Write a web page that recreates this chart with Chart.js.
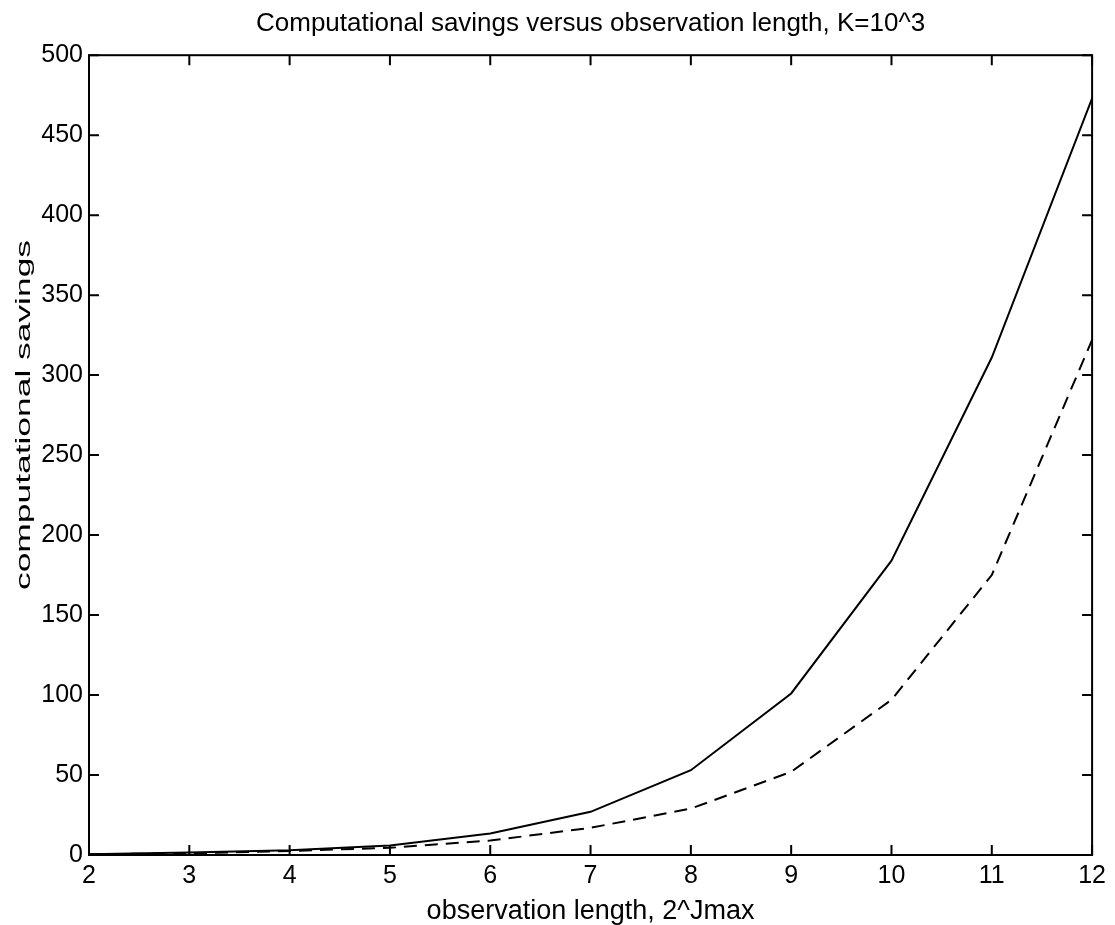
<!DOCTYPE html>
<html lang="en">
<head>
  <meta charset="UTF-8" />
  <title>Computational savings versus observation length</title>
  <style>
    body { margin: 0; padding: 0; background: #fff; }
    #wrap { width: 1115px; height: 925px; }
  </style>
</head>
<body>
  <div id="wrap"><canvas id="savingsChart" width="1115" height="925"></canvas></div>

  <script src="https://cdn.jsdelivr.net/npm/chart.js"></script>
  <script>
    // Data
    const jmax = [2, 3, 4, 5, 6, 7, 8, 9, 10, 11, 12];
    const savingsSolid = [0.5, 1.5, 3, 6, 13.5, 27, 53, 101, 184, 311, 473];
    const savingsDashed = [0.5, 1, 2.5, 4.5, 9, 17, 29, 52, 97, 175, 322];
    const yTicks = [0, 50, 100, 150, 200, 250, 300, 350, 400, 450, 500];
    const yTitle = 'computational savings';

    const FONT = "'Liberation Sans', Arial, sans-serif";

    // MATLAB-style box with inward ticks, plus the stretched y label
    const boxTicks = {
      id: 'boxTicks',
      afterDatasetsDraw(chart) {
        const { ctx, chartArea: a, scales: { x, y } } = chart;
        const len = 10;
        ctx.save();
        ctx.strokeStyle = '#000';
        ctx.lineWidth = 2;
        ctx.strokeRect(a.left, a.top, a.right - a.left, a.bottom - a.top);
        ctx.beginPath();
        jmax.forEach(v => {
          const px = x.getPixelForValue(v);
          ctx.moveTo(px, a.bottom); ctx.lineTo(px, a.bottom - len);
          ctx.moveTo(px, a.top); ctx.lineTo(px, a.top + len);
        });
        yTicks.forEach(v => {
          const py = y.getPixelForValue(v);
          ctx.moveTo(a.left, py); ctx.lineTo(a.left + len, py);
          ctx.moveTo(a.right, py); ctx.lineTo(a.right - len, py);
        });
        ctx.stroke();

        // y axis label (the scan stretches it along its length)
        ctx.font = '21px ' + FONT;
        ctx.fillStyle = '#000';
        ctx.textAlign = 'center';
        ctx.textBaseline = 'middle';
        const w = ctx.measureText(yTitle).width;
        ctx.translate(24, 415);
        ctx.rotate(-Math.PI / 2);
        ctx.scale(350 / w, 1);
        ctx.fillText(yTitle, 0, 0);
        ctx.restore();
      }
    };

    const ctx = document.getElementById('savingsChart').getContext('2d');
    new Chart(ctx, {
      type: 'line',
      data: {
        datasets: [{
          data: jmax.map((v, i) => ({ x: v, y: savingsSolid[i] })),
          borderColor: '#000',
          borderWidth: 2,
          pointRadius: 0,
          tension: 0
        }, {
          data: jmax.map((v, i) => ({ x: v, y: savingsDashed[i] })),
          borderColor: '#000',
          borderWidth: 2,
          borderDash: [13, 8],
          pointRadius: 0,
          tension: 0
        }]
      },
      options: {
        responsive: false,
        animation: false,
        layout: { padding: { left: 0, right: 22, top: 0, bottom: 0 } },
        plugins: {
          legend: { display: false },
          tooltip: { enabled: false },
          title: {
            display: true,
            fullSize: false,
            text: 'Computational savings versus observation length, K=10^3',
            color: '#000',
            font: { family: FONT, size: 26, weight: 'normal', lineHeight: 1.2 },
            padding: { top: 8, bottom: 16 }
          }
        },
        scales: {
          x: {
            type: 'linear',
            min: 2, max: 12,
            grid: { display: false, drawTicks: false },
            border: { display: false },
            afterFit: s => { s.height = 70; },
            afterBuildTicks: s => { s.ticks = jmax.map(v => ({ value: v })); },
            ticks: {
              color: '#000',
              padding: 9,
              maxRotation: 0,
              font: { family: FONT, size: 25, lineHeight: 1 }
            },
            title: {
              display: true,
              text: 'observation length, 2^Jmax',
              color: '#000',
              font: { family: FONT, size: 27, lineHeight: 1 },
              padding: { top: 0, bottom: 0 }
            }
          },
          y: {
            type: 'linear',
            min: 0, max: 500,
            grid: { display: false, drawTicks: false },
            border: { display: false },
            afterFit: s => { s.width = 89; },
            afterBuildTicks: s => { s.ticks = yTicks.map(v => ({ value: v })); },
            ticks: {
              color: '#000',
              padding: 6,
              font: { family: FONT, size: 25, lineHeight: 1 }
            }
          }
        }
      },
      plugins: [boxTicks]
    });
  </script>
</body>
</html>
